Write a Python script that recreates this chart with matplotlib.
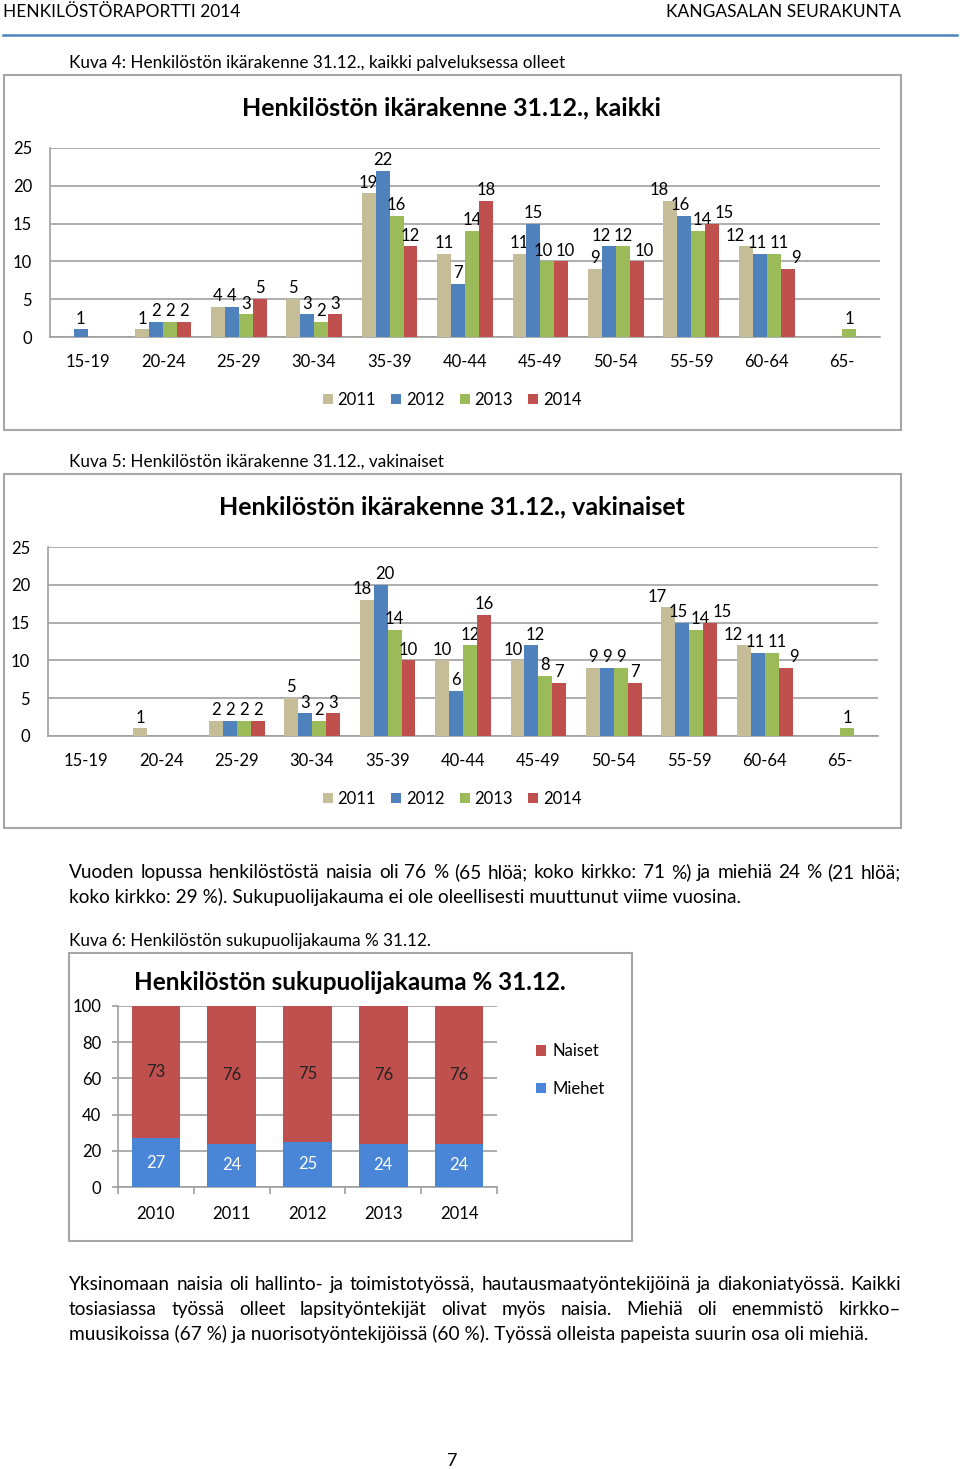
import matplotlib
matplotlib.use('Agg')
import matplotlib.pyplot as plt
from matplotlib.patches import Rectangle
from matplotlib.lines import Line2D
import numpy as np

# Page size in pixels
W, H = 960, 1469

# Data: age structure, all staff (Kuva 4)
age_groups = ['15-19', '20-24', '25-29', '30-34', '35-39', '40-44',
              '45-49', '50-54', '55-59', '60-64', '65-']
years = ['2011', '2012', '2013', '2014']
all_2011 = [0, 1, 4, 5, 19, 11, 11, 9, 18, 12, 0]
all_2012 = [1, 2, 4, 3, 22, 7, 15, 12, 16, 11, 0]
all_2013 = [0, 2, 3, 2, 16, 14, 10, 12, 14, 11, 1]
all_2014 = [0, 2, 5, 3, 12, 18, 10, 10, 15, 9, 0]

# Data: age structure, permanent staff (Kuva 5)
perm_2011 = [0, 1, 2, 5, 18, 10, 10, 9, 17, 12, 0]
perm_2012 = [0, 0, 2, 3, 20, 6, 12, 9, 15, 11, 0]
perm_2013 = [0, 0, 2, 2, 14, 12, 8, 9, 14, 11, 1]
perm_2014 = [0, 0, 2, 3, 10, 16, 7, 7, 15, 9, 0]

# Data: gender split % (Kuva 6)
gender_years = ['2010', '2011', '2012', '2013', '2014']
men_pct = [27, 24, 25, 24, 24]
women_pct = [73, 76, 75, 76, 76]

year_colors = ['#C4BD97', '#4F81BD', '#9BBB59', '#C0504D']
grid_col = '#a0a0a0'
body_size = 13.7
caption_size = 12.3
chart_size = 12

plt.rcParams['font.family'] = ['Lato', 'DejaVu Sans']

fig = plt.figure(figsize=(W / 100, H / 100), dpi=100)
renderer = fig.canvas.get_renderer()


def rect(x0, y0, x1, y1):
    return [x0 / W, 1 - y1 / H, (x1 - x0) / W, (y1 - y0) / H]


def ftext(x, y, s, **kw):
    kw.setdefault('va', 'center')
    return fig.text(x / W, 1 - y / H, s, **kw)


def body(x, y, s):
    # body text sits on a baseline ~5 px under the line centre
    return ftext(x, y + 5, s, fontsize=body_size, va='baseline')


def frame(x0, y0, x1, y1):
    fig.add_artist(Rectangle((x0 / W, 1 - y1 / H), (x1 - x0) / W, (y1 - y0) / H,
                             transform=fig.transFigure, fill=False,
                             edgecolor='#a6a6a6', lw=1.5))


def justify(line, x0, x1, y):
    words = line.split()
    texts = [body(0, y, w) for w in words]
    widths = [t.get_window_extent(renderer).width for t in texts]
    gap = (x1 - x0 - sum(widths)) / (len(words) - 1)
    x = x0
    for t, w in zip(texts, widths):
        t.set_x(x / W)
        x += w + gap


def spread_labels(label_sets):
    # push apart neighbouring value labels inside one group, like Excel does
    for j in range(len(label_sets[0])):
        anns = [s[j] for s in label_sets if s[j].get_text()]
        for _ in range(4):
            for a, b in zip(anns, anns[1:]):
                ea = a.get_window_extent(renderer)
                eb = b.get_window_extent(renderer)
                if ea.x1 + 2 > eb.x0 and ea.y0 < eb.y1 and eb.y0 < ea.y1:
                    d = (ea.x1 + 3 - eb.x0) / 2 * 0.72
                    a.xyann = (a.xyann[0] - d, a.xyann[1])
                    b.xyann = (b.xyann[0] + d, b.xyann[1])


def age_chart(box, series, title, title_y, legend_y):
    x0, y0, x1, y1 = box
    ax = fig.add_axes(rect(*box))
    x = np.arange(len(age_groups))
    w = 0.185
    label_sets = []
    for i, vals in enumerate(series):
        bars = ax.bar(x + (i - 1.5) * w, vals, w, color=year_colors[i],
                      label=years[i], zorder=3)
        label_sets.append(ax.bar_label(bars, labels=[str(v) if v else '' for v in vals],
                                       padding=2, fontsize=chart_size))
    ax.set_xlim(-0.5, 10.5)
    ax.set_ylim(0, 25)
    ax.set_yticks(range(0, 26, 5))
    ax.set_xticks(x, age_groups)
    ax.yaxis.grid(True, color=grid_col, lw=1.2, zorder=0)
    ax.set_axisbelow(True)
    for s in ['top', 'right']:
        ax.spines[s].set_visible(False)
    for s in ['left', 'bottom']:
        ax.spines[s].set_color(grid_col)
        ax.spines[s].set_linewidth(1.2)
    ax.tick_params(axis='y', length=0, pad=13, labelsize=chart_size)
    ax.tick_params(axis='x', length=0, pad=12, labelsize=chart_size)
    spread_labels(label_sets)
    ftext(452, title_y, title, fontsize=18, fontweight='bold', ha='center')
    ax.legend(loc='center', bbox_to_anchor=((452 - x0) / (x1 - x0), (y1 - legend_y) / (y1 - y0)),
              ncol=4, frameon=False, fontsize=chart_size, handlelength=0.6, handleheight=0.6,
              handletextpad=0.3, columnspacing=0.9)
    return ax


# Header
ftext(3, 12, 'HENKILÖSTÖRAPORTTI 2014', fontsize=12.5)
ftext(901, 12, 'KANGASALAN SEURAKUNTA', fontsize=12.5, ha='right')
fig.add_artist(Line2D([3 / W, 957 / W], [1 - 35 / H, 1 - 35 / H],
                      transform=fig.transFigure, color='#4F81BD', lw=1.8))

# Kuva 4
ftext(69, 63, 'Kuva 4: Henkilöstön ikärakenne 31.12., kaikki palveluksessa olleet', fontsize=caption_size)
frame(4, 75, 901, 430)
age_chart((50, 148, 880, 337), [all_2011, all_2012, all_2013, all_2014],
          'Henkilöstön ikärakenne 31.12., kaikki', 108, 400)

# Kuva 5
ftext(69, 462, 'Kuva 5: Henkilöstön ikärakenne 31.12., vakinaiset', fontsize=caption_size)
frame(4, 474, 901, 828)
age_chart((48, 547, 878, 736), [perm_2011, perm_2012, perm_2013, perm_2014],
          'Henkilöstön ikärakenne 31.12., vakinaiset', 507, 799)

# Paragraph 1
justify('Vuoden lopussa henkilöstöstä naisia oli 76 % (65 hlöä; koko kirkko: 71 %) ja miehiä 24 % (21 hlöä;',
        69, 901, 873)
body(69, 898, 'koko kirkko: 29 %). Sukupuolijakauma ei ole oleellisesti muuttunut viime vuosina.')

# Kuva 6
ftext(69, 941, 'Kuva 6: Henkilöstön sukupuolijakauma % 31.12.', fontsize=caption_size)
frame(69, 953, 632, 1241)
gx0, gy0, gx1, gy1 = 118, 1006, 497, 1187
ax3 = fig.add_axes(rect(gx0, gy0, gx1, gy1))
xg = np.arange(len(gender_years))
b_men = ax3.bar(xg, men_pct, 0.64, color='#4A86D8', label='Miehet', zorder=3)
b_women = ax3.bar(xg, women_pct, 0.64, bottom=men_pct, color='#C0504D', label='Naiset', zorder=3)
ax3.bar_label(b_men, label_type='center', color='white', fontsize=chart_size)
ax3.bar_label(b_women, label_type='center', color='#222222', fontsize=chart_size)
ax3.set_xlim(-0.5, 4.5)
ax3.set_ylim(0, 100)
ax3.set_yticks(range(0, 101, 20))
ax3.set_xticks(xg, gender_years)
ax3.set_xticks(np.arange(-0.5, 5, 1), minor=True)
ax3.yaxis.grid(True, color=grid_col, lw=1.2, zorder=0)
ax3.set_axisbelow(True)
for s in ['top', 'right']:
    ax3.spines[s].set_visible(False)
for s in ['left', 'bottom']:
    ax3.spines[s].set_color(grid_col)
    ax3.spines[s].set_linewidth(1.2)
ax3.tick_params(axis='y', length=4, width=1.2, color=grid_col, pad=8, labelsize=chart_size)
ax3.tick_params(axis='x', which='major', length=0, pad=14, labelsize=chart_size)
ax3.tick_params(axis='x', which='minor', length=5, width=1.2, color=grid_col)
ax3.legend([b_women, b_men], ['Naiset', 'Miehet'], loc='center left',
           bbox_to_anchor=((529 - gx0) / (gx1 - gx0), (gy1 - 1070) / (gy1 - gy0)),
           frameon=False, fontsize=chart_size, handlelength=0.6, handleheight=0.6,
           handletextpad=0.4, labelspacing=1.3, borderaxespad=0)
ftext(350, 983, 'Henkilöstön sukupuolijakauma % 31.12.', fontsize=17.5, fontweight='bold', ha='center')

# Paragraph 2
justify('Yksinomaan naisia oli hallinto- ja toimistotyössä, hautausmaatyöntekijöinä ja diakoniatyössä. Kaikki',
        69, 901, 1285)
justify('tosiasiassa työssä olleet lapsityöntekijät olivat myös naisia. Miehiä oli enemmistö kirkko–',
        69, 901, 1310)
body(69, 1335, 'muusikoissa (67 %) ja nuorisotyöntekijöissä (60 %). Työssä olleista papeista suurin osa oli miehiä.')

# Page number
ftext(452, 1461, '7', fontsize=13, ha='center')

plt.savefig('out.png', dpi=100)
